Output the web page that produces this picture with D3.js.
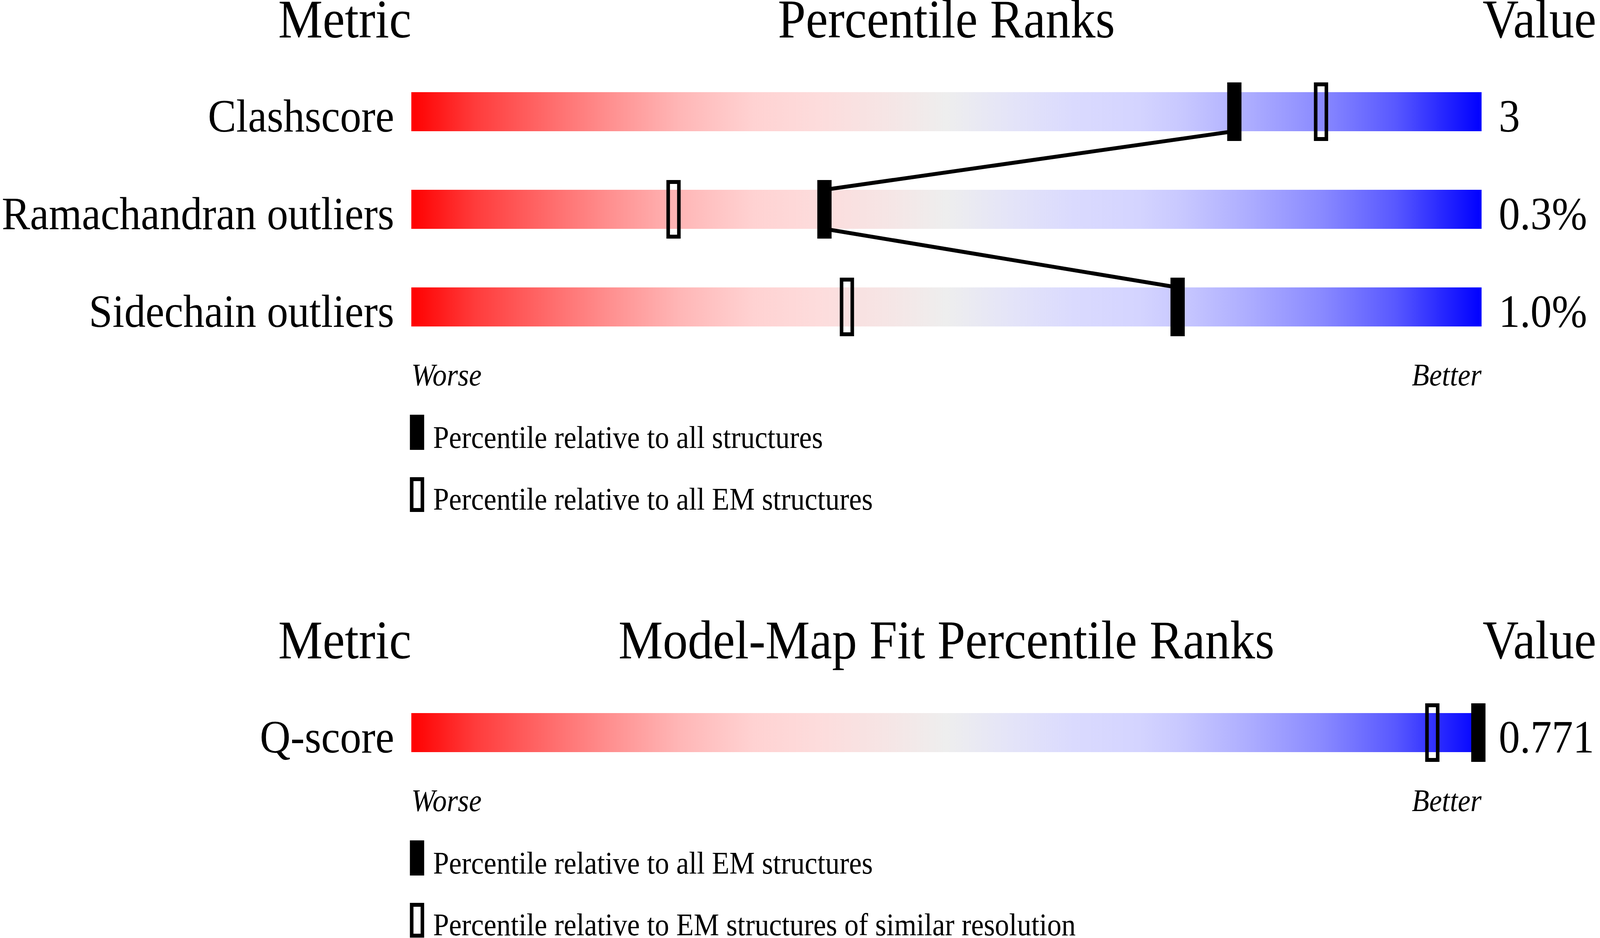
<!DOCTYPE html>
<html>
<head>
<meta charset="utf-8">
<script src="https://cdn.jsdelivr.net/npm/d3@7"></script>
<style>
  html, body { margin: 0; padding: 0; background: #fff; overflow: hidden; }
  svg { display: block; width: 100vw; height: 100vh; }
</style>
</head>
<body>
<svg id="chart" viewBox="0 0 4485 2402" preserveAspectRatio="none"></svg>
<script>
// Geometry quality metrics
const geoMetrics = ["Clashscore", "Ramachandran outliers", "Sidechain outliers"];
const geoValues = ["3", "0.3%", "1.0%"];
const geoPctAll = [76.9, 38.6, 71.6];   // percentile relative to all structures
const geoPctEM = [85.0, 24.5, 40.7];    // percentile relative to all EM structures
const geoLegend = ["Percentile relative to all structures", "Percentile relative to all EM structures"];

// Model-map fit metrics
const fitMetrics = ["Q-score"];
const fitValues = ["0.771"];
const fitPctAllEM = [99.7];             // percentile relative to all EM structures
const fitPctSimilar = [95.4];           // percentile relative to EM structures of similar resolution
const fitLegend = ["Percentile relative to all EM structures", "Percentile relative to EM structures of similar resolution"];

const svg = d3.select("#chart");
const serif = "'Liberation Serif', 'Times New Roman', serif";

// slider colour ramp, red (worse) to blue (better)
const rampStops = [
  [0, "#ff0000"], [0.06, "#ff3c3c"], [0.13, "#ff6c6c"], [0.19, "#ff9292"],
  [0.25, "#ffb6b6"], [0.32, "#ffd2d2"], [0.38, "#fddcdc"], [0.45, "#f5e6e6"],
  [0.5, "#eeeeee"], [0.56, "#e4e4f8"], [0.62, "#dadafe"], [0.68, "#d4d4ff"],
  [0.72, "#c8c8ff"], [0.78, "#aeaeff"], [0.85, "#8a8aff"], [0.92, "#5858ff"],
  [0.97, "#2020ff"], [1, "#0000ff"]
];
const grad = svg.append("defs").append("linearGradient")
    .attr("id", "ramp")
    .attr("x1", 0).attr("x2", 1).attr("y1", 0).attr("y2", 0);
grad.selectAll("stop")
    .data(rampStops)
    .enter().append("stop")
    .attr("offset", d => d[0])
    .attr("stop-color", d => d[1]);

// percentile scale shared by both panels
const x = d3.scaleLinear().domain([0, 100]).range([1153, 4153]);

function drawPanel(opts) {
    const g = svg.append("g");
    const n = opts.metrics.length;

    const y = d3.scaleBand()
        .domain(opts.metrics)
        .range([opts.top, opts.top + (n - 1) * 250 + 100])
        .paddingInner(n > 1 ? 0.6 : 0);
    const bw = y.bandwidth();
    const firstTop = y(opts.metrics[0]);
    const lastBottom = y(opts.metrics[n - 1]) + bw;

    // Headers
    const head = firstTop - 140;
    g.append("text").attr("x", x(0)).attr("y", head)
        .attr("text-anchor", "end").text("Metric");
    g.append("text").attr("x", (x(0) + x(100)) / 2).attr("y", head)
        .attr("text-anchor", "middle").text(opts.title);
    g.append("text").attr("x", x(100) + 3).attr("y", head)
        .attr("text-anchor", "start").text("Value");
    g.selectAll("text").attr("font-family", serif).attr("font-size", 140);

    // Gradient bars
    g.selectAll(".bar")
        .data(opts.metrics)
        .enter().append("rect")
        .attr("class", "bar")
        .attr("x", x(0))
        .attr("y", d => y(d))
        .attr("width", x(100) - x(0))
        .attr("height", bw)
        .attr("fill", "url(#ramp)");

    // Metric labels and values
    g.selectAll(".label")
        .data(opts.metrics)
        .enter().append("text")
        .attr("class", "label")
        .attr("x", x(0) - 48)
        .attr("y", d => y(d) + bw + 1)
        .attr("text-anchor", "end")
        .attr("font-family", serif)
        .attr("font-size", 119)
        .text(d => d);

    g.selectAll(".value")
        .data(opts.values)
        .enter().append("text")
        .attr("class", "value")
        .attr("x", x(100) + 48)
        .attr("y", (d, i) => y(opts.metrics[i]) + bw + 1)
        .attr("font-family", serif)
        .attr("font-size", 119)
        .text(d => d);

    // Connector between solid markers
    if (opts.connect) {
        for (let i = 0; i < n - 1; i++) {
            g.append("line")
                .attr("x1", x(opts.solid[i]))
                .attr("y1", y(opts.metrics[i]) + bw)
                .attr("x2", x(opts.solid[i + 1]))
                .attr("y2", y(opts.metrics[i + 1]))
                .attr("stroke", "black")
                .attr("stroke-width", 10);
        }
    }

    // Open markers
    g.selectAll(".open")
        .data(opts.open)
        .enter().append("rect")
        .attr("class", "open")
        .attr("x", d => x(d) - 15)
        .attr("y", (d, i) => y(opts.metrics[i]) - 20)
        .attr("width", 30)
        .attr("height", bw + 40)
        .attr("fill", "none")
        .attr("stroke", "black")
        .attr("stroke-width", 10);

    // Solid markers
    g.selectAll(".solid")
        .data(opts.solid)
        .enter().append("rect")
        .attr("class", "solid")
        .attr("x", d => x(d) - 20)
        .attr("y", (d, i) => y(opts.metrics[i]) - 25)
        .attr("width", 40)
        .attr("height", bw + 50)
        .attr("fill", "black");

    // Worse / Better
    g.append("text").attr("x", x(0)).attr("y", lastBottom + 151)
        .attr("font-family", serif).attr("font-size", 80)
        .attr("font-style", "italic").text("Worse");
    g.append("text").attr("x", x(100)).attr("y", lastBottom + 151)
        .attr("text-anchor", "end")
        .attr("font-family", serif).attr("font-size", 80)
        .attr("font-style", "italic").text("Better");

    // Legend
    const lg = g.append("g");
    lg.append("rect")
        .attr("x", x(0) - 4).attr("y", lastBottom + 226)
        .attr("width", 40).attr("height", 90)
        .attr("fill", "black");
    lg.append("rect")
        .attr("x", x(0) + 1).attr("y", lastBottom + 391)
        .attr("width", 30).attr("height", 79)
        .attr("fill", "none").attr("stroke", "black").attr("stroke-width", 10);
    lg.selectAll("text")
        .data(opts.legend)
        .enter().append("text")
        .attr("x", x(0) + 61)
        .attr("y", (d, i) => lastBottom + 311 + i * 158)
        .attr("font-family", serif)
        .attr("font-size", 80)
        .text(d => d);
}

drawPanel({
    top: 236,
    title: "Percentile Ranks",
    metrics: geoMetrics,
    values: geoValues,
    solid: geoPctAll,
    open: geoPctEM,
    legend: geoLegend,
    connect: true
});

drawPanel({
    top: 1826,
    title: "Model-Map Fit Percentile Ranks",
    metrics: fitMetrics,
    values: fitValues,
    solid: fitPctAllEM,
    open: fitPctSimilar,
    legend: fitLegend,
    connect: false
});
</script>
</body>
</html>
